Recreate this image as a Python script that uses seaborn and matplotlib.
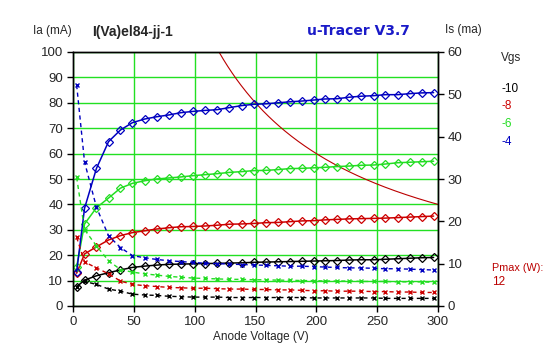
import numpy as np
import pandas as pd
import matplotlib
matplotlib.use("Agg")
import matplotlib.pyplot as plt
import seaborn as sns

# ---------------- data ----------------
anode_v = [3.0, 9.5, 19.3, 29.2, 39.0, 48.9, 58.8, 68.7, 78.6, 88.5, 98.4,
           108.5, 118.6, 128.5, 138.6, 148.5, 158.5, 168.4, 178.4, 188.3, 198.0,
           207.0, 217.0, 227.0, 237.0, 247.0, 256.8, 266.8, 276.7, 286.7, 296.4]

vgs_labels = ["-10", "-8", "-6", "-4"]

ia_m10 = [7.6, 10.2, 11.9, 13.1, 14.2, 15.2, 15.7, 16.1, 16.4, 16.5, 16.6,
          16.7, 16.8, 16.9, 17.0, 17.2, 17.3, 17.4, 17.5, 17.6, 17.7,
          17.8, 17.9, 18.1, 18.2, 18.2, 18.4, 18.6, 18.8, 19.0, 19.1]
ia_m8 = [12.9, 20.5, 23.3, 26.0, 27.7, 28.9, 29.6, 30.3, 30.8, 31.2, 31.3,
         31.5, 31.8, 32.2, 32.3, 32.5, 32.8, 32.9, 33.2, 33.5, 33.6,
         33.9, 34.1, 34.3, 34.4, 34.5, 34.6, 34.8, 35.0, 35.2, 35.4]
ia_m6 = [15.5, 32.3, 38.7, 42.5, 46.4, 48.3, 49.3, 50.0, 50.4, 50.8, 51.3,
         51.7, 52.1, 52.6, 52.9, 53.3, 53.4, 53.7, 54.1, 54.2, 54.4,
         54.6, 54.9, 55.1, 55.4, 55.5, 55.9, 56.4, 56.6, 56.8, 57.0]
ia_m4 = [13.5, 38.5, 54.2, 64.7, 69.3, 72.2, 73.6, 74.5, 75.2, 76.1, 76.6,
         77.0, 77.3, 78.1, 78.9, 79.4, 79.6, 80.0, 80.4, 80.7, 81.1,
         81.5, 81.6, 82.2, 82.6, 82.8, 83.2, 83.2, 83.6, 83.9, 84.0]

is_m10 = [4.5, 5.8, 5.1, 4.0, 3.5, 2.8, 2.6, 2.5, 2.3, 2.2, 2.1,
          2.1, 2.1, 2.0, 2.0, 2.0, 2.0, 2.0, 2.0, 2.0, 1.9,
          1.9, 1.9, 1.9, 1.9, 1.9, 1.8, 1.8, 1.8, 1.8, 1.8]
is_m8 = [16.2, 10.4, 9.0, 7.6, 5.9, 5.1, 4.8, 4.6, 4.4, 4.3, 4.2,
         4.2, 4.1, 4.0, 4.0, 3.9, 3.9, 3.8, 3.8, 3.7, 3.6,
         3.6, 3.5, 3.5, 3.5, 3.4, 3.4, 3.3, 3.3, 3.2, 3.2]
is_m6 = [30.4, 18.0, 14.2, 10.7, 8.6, 8.0, 7.6, 7.3, 7.0, 6.8, 6.6,
         6.5, 6.4, 6.3, 6.3, 6.2, 6.2, 6.1, 6.1, 6.0, 6.0,
         5.9, 5.9, 5.9, 5.8, 5.8, 5.8, 5.7, 5.7, 5.7, 5.6]
is_m4 = [52.2, 34.0, 23.3, 16.6, 13.8, 11.9, 11.4, 11.0, 10.7, 10.5, 10.3,
         10.1, 10.0, 9.9, 9.8, 9.7, 9.6, 9.5, 9.4, 9.4, 9.3,
         9.2, 9.1, 9.0, 9.0, 8.9, 8.8, 8.8, 8.7, 8.6, 8.5]

pmax_w = 12

x_ticks = [0, 50, 100, 150, 200, 250, 300]
ia_ticks = [0, 10, 20, 30, 40, 50, 60, 70, 80, 90, 100]
is_ticks = [0, 10, 20, 30, 40, 50, 60]

# ---------------- style ----------------
colors = ["#000000", "#cc0000", "#22dd22", "#0000c0"]
grid_c = "#22e022"
pmax_c = "#bb0000"

sns.set_style("white")
plt.rcParams["font.family"] = ["Liberation Sans", "DejaVu Sans"]

fig = plt.figure(figsize=(5.47, 3.57), dpi=100)
ax = fig.add_axes([73 / 547, 1 - 306 / 357, (438 - 73) / 547, (306 - 52) / 357])
ax2 = ax.twinx()

ia_all = [ia_m10, ia_m8, ia_m6, ia_m4]
is_all = [is_m10, is_m8, is_m6, is_m4]

for ia, col in zip(ia_all, colors):
    df = pd.DataFrame({"V": anode_v, "I": ia})
    sns.lineplot(data=df, x="V", y="I", ax=ax, color=col, linewidth=1.1,
                 marker="D", markersize=4.0, markerfacecolor="none",
                 markeredgecolor=col, markeredgewidth=0.9, zorder=3)

for isv, col in zip(is_all, colors):
    df = pd.DataFrame({"V": anode_v, "I": isv})
    sns.lineplot(data=df, x="V", y="I", ax=ax2, color=col, linewidth=1.0,
                 linestyle=(0, (3, 2.5)), marker="x", markersize=3.5,
                 markeredgewidth=1.0, markeredgecolor=col, zorder=3)

# Pmax hyperbola
pv = np.linspace(pmax_w * 1000 / 100, 300, 200)
pdf = pd.DataFrame({"V": pv, "I": pmax_w * 1000 / pv})
sns.lineplot(data=pdf, x="V", y="I", ax=ax, color=pmax_c, linewidth=0.8, zorder=2)

ax.set_xlim(0, 300)
ax.set_ylim(0, 100)
ax2.set_ylim(0, 60)
ax.set_xticks(x_ticks)
ax.set_yticks(ia_ticks)
ax2.set_yticks(is_ticks)
ax.set_xlabel("")
ax.set_ylabel("")
ax2.set_ylabel("")
ax.grid(True, color=grid_c, linewidth=1.0)
ax2.grid(False)
ax.set_axisbelow(True)

for a in (ax, ax2):
    for s in a.spines.values():
        s.set_color("black")
        s.set_linewidth(1.0)
        s.set_visible(True)

ax.tick_params(axis="both", which="both", direction="out", length=4, width=1,
               color="black", labelsize=9.5, pad=3, left=True, bottom=True)
ax2.tick_params(axis="y", direction="out", length=4, width=1, color="black",
                labelsize=9.5, pad=3, right=True)

# ---------------- texts ----------------
def ft(x, y, s, **kw):
    fig.text(x / 547, 1 - y / 357, s, va="center", **kw)

ft(33, 31, "Ia (mA)", fontsize=8.5, ha="left")
ft(92, 32, "I(Va)el84-jj-1", fontsize=10, fontweight="bold", ha="left")
ft(358, 31, "u-Tracer V3.7", fontsize=10, fontweight="bold", color="#1a1ac8",
   ha="center", family=["DejaVu Sans"])
ft(445, 30, "Is (ma)", fontsize=8.5, ha="left")
ft(501, 58, "Vgs", fontsize=8.5, ha="left")
for lab, col, yy in zip(vgs_labels, colors, [89, 106, 124, 142]):
    ft(501, yy, lab, fontsize=8.5, ha="left", color=col)
ft(492, 268, "Pmax (W):", fontsize=7.8, ha="left", color=pmax_c)
ft(492, 282, str(pmax_w), fontsize=8.5, ha="left", color=pmax_c)
ft(261, 337, "Anode Voltage (V)", fontsize=8.5, ha="center")

fig.savefig("out.png", dpi=100, facecolor="white")
